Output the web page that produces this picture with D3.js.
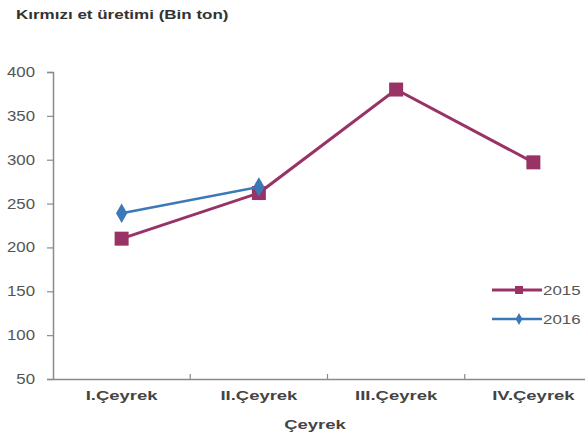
<!DOCTYPE html>
<html><head><meta charset="utf-8">
<script src="https://cdn.jsdelivr.net/npm/d3@7/dist/d3.min.js"></script>
<style>body{margin:0;background:#fff}svg{display:block}</style>
</head><body><svg id="c" width="585" height="436"></svg>
<script>
const categories = ["I.Çeyrek", "II.Çeyrek", "III.Çeyrek", "IV.Çeyrek"];
const series2015 = [210, 262, 380, 297];
const series2016 = [239, 269];
const yTicks = [50, 100, 150, 200, 250, 300, 350, 400];
const seriesNames = ["2015", "2016"];
const titleText = "Kırmızı et üretimi (Bin ton)";
const xTitle = "Çeyrek";

const FONT = "Liberation Sans, Arial, sans-serif";
const svg = d3.select("#c");
const x = d3.scaleBand().domain(categories).range([53, 602]);
const y = d3.scaleLinear().domain([50, 400]).range([379, 72]);
const axisCol = "#8a8a8a";
const c15 = "#993366", c16 = "#3a78b8";

function stretch(sel, f) {
  sel.each(function () {
    const w = this.getComputedTextLength();
    d3.select(this).attr("textLength", w * f).attr("lengthAdjust", "spacingAndGlyphs");
  });
}

const t = svg.append("text").attr("x", 16).attr("y", 19).text(titleText)
  .attr("font-family", FONT).attr("font-weight", "bold")
  .attr("font-size", 12.5).attr("fill", "#333");
stretch(t, 1.36);

// y axis
const ya = svg.append("g").attr("transform", "translate(53,0)")
  .call(d3.axisLeft(y).tickValues(yTicks).tickSize(6).tickPadding(12));
ya.select(".domain").attr("stroke", axisCol).attr("stroke-width", 1.5);
ya.selectAll(".tick line").attr("stroke", axisCol).attr("stroke-width", 1.2);
ya.selectAll("text").attr("font-family", FONT)
  .attr("font-size", 14).attr("fill", "#555");
stretch(ya.selectAll("text"), 1.2);

// x axis
const xa = svg.append("g").attr("transform", "translate(0,379)")
  .call(d3.axisBottom(x).tickSize(0).tickPadding(12));
xa.select(".domain").attr("stroke", axisCol).attr("stroke-width", 1.5);
xa.selectAll("text").attr("font-family", FONT)
  .attr("font-weight", "bold").attr("font-size", 13).attr("fill", "#444");
stretch(xa.selectAll("text"), 1.42);
xa.selectAll(".bt").data(categories.slice(1)).enter().append("line")
  .attr("x1", d => x(d)).attr("x2", d => x(d)).attr("y1", -5).attr("y2", 0)
  .attr("stroke", axisCol).attr("stroke-width", 1.2);

const xt = svg.append("text").attr("x", 315).attr("y", 429).attr("text-anchor", "middle").text(xTitle)
  .attr("font-family", FONT).attr("font-weight", "bold")
  .attr("font-size", 13).attr("fill", "#444");
stretch(xt, 1.42);

const cx = (d, i) => x(categories[i]) + x.bandwidth() / 2;
const line = d3.line().x(cx).y(d => y(d));

svg.append("path").datum(series2015).attr("d", line).attr("fill", "none")
  .attr("stroke", c15).attr("stroke-width", 3);
svg.selectAll(".m15").data(series2015).enter().append("rect")
  .attr("x", (d, i) => cx(d, i) - 7).attr("y", d => y(d) - 7)
  .attr("width", 14).attr("height", 14).attr("fill", c15);

svg.append("path").datum(series2016).attr("d", line).attr("fill", "none")
  .attr("stroke", c16).attr("stroke-width", 2.5);
svg.selectAll(".m16").data(series2016).enter().append("path")
  .attr("d", d3.symbol(d3.symbolDiamond, 110))
  .attr("transform", (d, i) => `translate(${cx(d, i)},${y(d)})`).attr("fill", c16);

// legend
const leg = svg.append("g");
const legY = [290, 319];
[[c15, "sq"], [c16, "di"]].forEach(([col, m], i) => {
  leg.append("line").attr("x1", 492).attr("x2", 542).attr("y1", legY[i]).attr("y2", legY[i])
    .attr("stroke", col).attr("stroke-width", i ? 2.5 : 3);
  if (m === "sq") leg.append("rect").attr("x", 515).attr("y", legY[i] - 4).attr("width", 8).attr("height", 8).attr("fill", col);
  else leg.append("path").attr("d", d3.symbol(d3.symbolDiamond, 40)).attr("transform", `translate(519,${legY[i]})`).attr("fill", col);
  const lt = leg.append("text").attr("x", 543).attr("y", legY[i] + 5).text(seriesNames[i])
    .attr("font-family", FONT).attr("font-size", 13).attr("fill", "#555");
  stretch(lt, 1.3);
});
</script></body></html>
